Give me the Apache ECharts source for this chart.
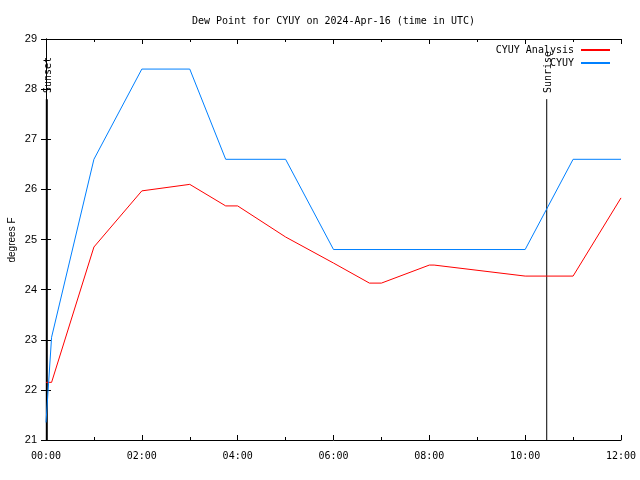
<!DOCTYPE html>
<html>
<head>
<meta charset="utf-8">
<script src="https://cdn.jsdelivr.net/npm/echarts@6/dist/echarts.min.js"></script>
<style>html,body{margin:0;padding:0;background:#fff}#c{width:640px;height:480px}</style>
</head>
<body>
<div id="c"></div>
<script>
const titleText = 'Dew Point for CYUY on 2024-Apr-16 (time in UTC)';
const yAxisTitle = 'degrees F';
const xTickLabels = ['00:00','02:00','04:00','06:00','08:00','10:00','12:00'];
const yTicks = [21,22,23,24,25,26,27,28,29];

const analysisTimes = ['00:00','00:07','01:00','02:00','03:00','03:45','04:00','05:00','06:00','06:45','07:00','08:00','08:06','10:00','11:00','12:00'];
const analysisValues = [22.15,22.15,24.85,25.97,26.1,25.67,25.67,25.05,24.53,24.13,24.13,24.49,24.49,24.27,24.27,25.83];

const obsTimes = ['00:00','00:07','01:00','02:00','03:00','03:45','05:00','06:00','10:00','11:00','12:00'];
const obsValues = [21.35,23.05,26.6,28.4,28.4,26.6,26.6,24.8,24.8,26.6,26.6];

const sunsetTime = '00:01';
const sunriseTime = '10:27';
const markerTop = 27.8;

function toHours(t){ const p = t.split(':'); return +p[0] + (+p[1])/60; }
function pairs(ts, vs){ return ts.map((t,i)=>[toHours(t), vs[i]]); }

const mono = 'DejaVu Sans Mono';
const sans = 'Liberation Sans';

function vline(name, t, w){
  const x = toHours(t);
  return {
    name: name, type: 'line', silent: true, symbol: 'none', legendHoverLink:false,
    lineStyle: {color:'#000', width:w},
    data: [
      {value:[x, yTicks[0]]},
      {value:[x, markerTop], symbol:'circle', symbolSize:0.1,
       label:{show:true, formatter:name, rotate:90, position:'top', distance:6, offset:[0,2],
              align:'left', verticalAlign:'middle', fontFamily:mono, fontSize:10, color:'#000'}}
    ],
    z: 1
  };
}

const chart = echarts.init(document.getElementById('c'), null, {renderer:'canvas'});
chart.setOption({
  animation:false,
  backgroundColor:'#fff',
  title:{text:titleText, left:187, top:11, textStyle:{fontFamily:mono, fontSize:10, fontWeight:'normal', color:'#000'}},
  graphic:[{type:'text', x:12, y:240, rotation:Math.PI/2,
    style:{text:yAxisTitle, fontFamily:sans, fontSize:10, fill:'#000', align:'center', verticalAlign:'middle'}}],
  legend:{
    orient:'vertical', right:25, top:40, align:'right', itemWidth:29, itemHeight:2, itemGap:3,
    icon:'rect', textStyle:{fontFamily:mono, fontSize:10, color:'#000', padding:[0,2,0,0]},
    data:[{name:'CYUY Analysis', itemStyle:{color:'#ff0000'}},{name:'CYUY', itemStyle:{color:'#0080ff'}}],
    selectedMode:false
  },
  grid:{left:46, right:19, top:39, bottom:40, containLabel:false, outerBoundsMode:'none'},
  xAxis:[{
    type:'value', min:0, max:12, interval:2,
    axisLine:{show:true, lineStyle:{color:'#000', width:1}},
    axisTick:{show:true, inside:true, length:5, lineStyle:{color:'#000'}},
    minorTick:{show:true, splitNumber:2, length:3, lineStyle:{color:'#000'}},
    splitLine:{show:false},
    axisLabel:{margin:11, fontFamily:mono, fontSize:10, color:'#000', formatter:(v)=>xTickLabels[Math.round(v/2)]}
  },{
    type:'value', min:0, max:12, interval:2, position:'top',
    axisLine:{show:true, lineStyle:{color:'#000', width:1}},
    axisTick:{show:true, inside:true, length:5, lineStyle:{color:'#000'}},
    minorTick:{show:true, splitNumber:2, length:3, lineStyle:{color:'#000'}},
    splitLine:{show:false}, axisLabel:{show:false}
  }],
  yAxis:[{
    type:'value', min:yTicks[0], max:yTicks[yTicks.length-1], interval:1,
    axisLine:{show:true, lineStyle:{color:'#000', width:1}},
    axisTick:{show:true, inside:true, length:5, lineStyle:{color:'#000'}},
    splitLine:{show:false},
    axisLabel:{margin:9, fontFamily:sans, fontSize:11, color:'#000'}
  },{
    type:'value', min:yTicks[0], max:yTicks[yTicks.length-1], interval:1, position:'right',
    axisLine:{show:true, lineStyle:{color:'#000', width:1}},
    axisTick:{show:true, inside:true, length:5, lineStyle:{color:'#000'}},
    splitLine:{show:false}, axisLabel:{show:false}
  }],
  series:[
    {name:'CYUY Analysis', type:'line', symbol:'none', data:pairs(analysisTimes, analysisValues),
     lineStyle:{color:'#ff0000', width:1}, itemStyle:{color:'#ff0000'}, z:3},
    {name:'CYUY', type:'line', symbol:'none', data:pairs(obsTimes, obsValues),
     lineStyle:{color:'#0080ff', width:1}, itemStyle:{color:'#0080ff'}, z:3},
    vline('Sunset', sunsetTime, 2),
    vline('Sunrise', sunriseTime, 1)
  ]
});
</script>
</body>
</html>
